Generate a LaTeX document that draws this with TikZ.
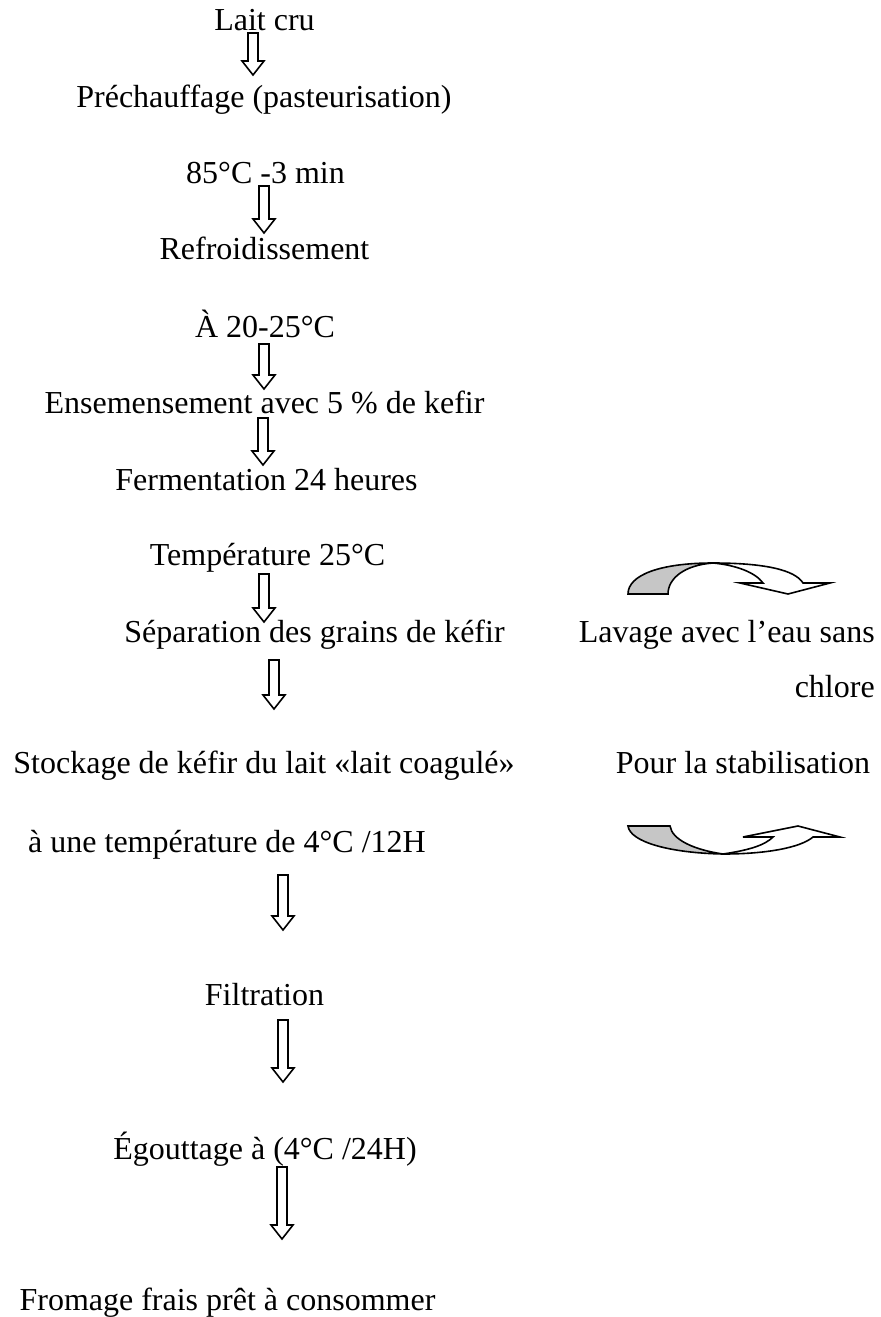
\documentclass[tikz,border=0pt]{standalone}
\usepackage{fontspec}
\setmainfont{Liberation Serif}
\usepackage{tikz}
\usetikzlibrary{calc}

\begin{document}
\begin{tikzpicture}[x=0.75pt, y=-0.75pt,
    etape/.style={anchor=base, inner sep=0pt, font=\fontsize{24}{28}\selectfont},
    % hollow block arrow between two coordinates
    blockarr/.style={draw, line width=1.2pt, line join=miter, to path={
        let \p1=(\tikztostart), \p2=(\tikztotarget) in
        (\x1-3.75pt,\y1) -- (\x1-3.75pt,\y2+10.5pt) -- (\x1-8.25pt,\y2+10.5pt)
        -- (\p2) -- (\x1+8.25pt,\y2+10.5pt) -- (\x1+3.75pt,\y2+10.5pt)
        -- (\x1+3.75pt,\y1) -- cycle}},
    curvearr/.style={draw, line width=1.2pt, line join=miter}]
    \useasboundingbox (0,0) rectangle (881,1317);

    % steps
    \node[etape] (lait)    at (264.5,30)  {Lait cru};
    \node[etape] (prech)   at (264,107)   {Préchauffage (pasteurisation)};
    \node[etape] (past)    at (265.5,183) {85°C -3 min};
    \node[etape] (refroid) at (264.5,259) {Refroidissement};
    \node[etape] (tref)    at (265,337)   {À 20-25°C};
    \node[etape] (ensem)   at (264.5,413) {Ensemensement avec 5 \% de kefir};
    \node[etape] (ferm)    at (266.5,490) {Fermentation 24 heures};
    \node[etape] (tferm)   at (267.5,565) {Température 25°C};
    \node[etape] (separ)   at (314.5,642) {Séparation des grains de kéfir};
    \node[etape] (stock)   at (264,773)   {Stockage de kéfir du lait «lait coagulé»};
    \node[etape] (tstock)  at (227,852)   {à une température de 4°C /12H};
    \node[etape] (filtr)   at (264.5,1005) {Filtration};
    \node[etape] (egout)   at (265,1159)  {Égouttage à (4°C /24H)};
    \node[etape] (fromage) at (227.5,1310) {Fromage frais prêt à consommer};

    % side notes
    \node[etape, anchor=base east] (lavage) at (875,642) {Lavage avec l’eau sans};
    \node[etape, anchor=base east] (chlore) at (875,697) {chlore};
    \node[etape] (stabil) at (743,773) {Pour la stabilisation};

    % block arrows
    \coordinate (a1t) at (253,33);   \coordinate (a1b) at (253,75);
    \coordinate (a2t) at (264,186);  \coordinate (a2b) at (264,233);
    \coordinate (a3t) at (264,344);  \coordinate (a3b) at (264,389);
    \coordinate (a4t) at (263,418);  \coordinate (a4b) at (263,465);
    \coordinate (a5t) at (264,574);  \coordinate (a5b) at (264,622);
    \coordinate (a6t) at (274,660);  \coordinate (a6b) at (274,709);
    \coordinate (a7t) at (283,875);  \coordinate (a7b) at (283,930);
    \coordinate (a8t) at (283,1020); \coordinate (a8b) at (283,1082);
    \coordinate (a9t) at (282,1167); \coordinate (a9b) at (282,1239);
    \foreach \i in {1,...,9}
        \draw[blockarr] (a\i t) to (a\i b);

    % curved arrow down
    \fill[gray!45] (628,594) -- (668,594) .. controls (668,578) and (685,565) .. (713,563)
        .. controls (660,563) and (628,575) .. cycle;
    \draw[curvearr] (628,594) -- (668,594) .. controls (668,578) and (685,565) .. (713,563)
        .. controls (735,565) and (755,572) .. (763,583) -- (740,583) -- (788,594)
        -- (830,583) -- (803,583) .. controls (795,570) and (765,563) .. (713,563)
        .. controls (660,563) and (628,575) .. cycle;

    % curved arrow up
    \fill[gray!45] (628,826) -- (670,826) .. controls (672,840) and (695,850) .. (723,854)
        .. controls (670,853) and (630,842) .. cycle;
    \draw[curvearr] (628,826) -- (670,826) .. controls (672,840) and (695,850) .. (723,854)
        .. controls (750,850) and (765,845) .. (773,837) -- (743,837) -- (798,826)
        -- (840,837) -- (813,837) .. controls (800,848) and (765,854) .. (723,854)
        .. controls (670,853) and (630,842) .. cycle;
\end{tikzpicture}
\end{document}
